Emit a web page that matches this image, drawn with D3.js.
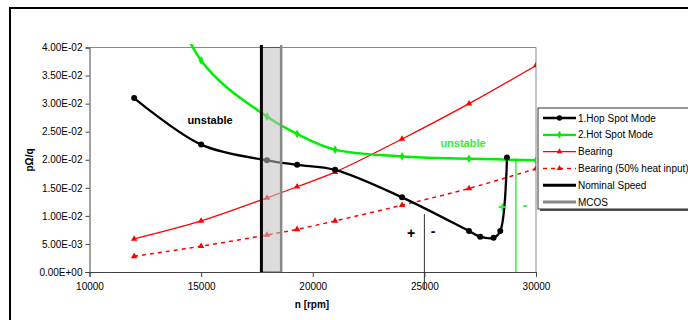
<!DOCTYPE html>
<html>
<head>
<meta charset="utf-8">
<script src="https://cdn.jsdelivr.net/npm/d3@7"></script>
<style>
  body { margin: 0; background: #fff; }
  svg { font-family: "Liberation Sans", Arial, sans-serif; }
</style>
</head>
<body>
<svg width="688" height="320"></svg>
<script>
// data
var hopN = [12000, 15000, 17950, 19300, 21000, 24000, 27000, 27500, 28100, 28400, 28700];
var hopVal = [0.031, 0.0227, 0.0199, 0.0191, 0.0182, 0.0133, 0.0073, 0.0063, 0.0061, 0.0073, 0.0204];

var hotN = [12000, 15000, 17950, 19300, 21000, 24000, 27000, 30000];
var hotVal = [0.066, 0.0377, 0.0277, 0.0246, 0.0218, 0.0206, 0.0202, 0.0199];

var bearN = [12000, 15000, 17950, 19300, 21000, 24000, 27000, 30000];
var bearVal = [0.0059, 0.0091, 0.0132, 0.0152, 0.0178, 0.0237, 0.030, 0.0368];
var bear50Val = [0.0028, 0.0046, 0.0066, 0.0076, 0.0091, 0.0119, 0.0149, 0.0184];

var nominalSpeed = 17700;
var mcos = 18585;
var stabilityLimit = 29100;   // green vertical line
var signLine = 25000;         // black +/- line

var xTicks = [10000, 15000, 20000, 25000, 30000];
var yTicks = [0, 0.005, 0.01, 0.015, 0.02, 0.025, 0.03, 0.035, 0.04];
var legendNames = ["1.Hop Spot Mode", "2.Hot Spot Mode", "Bearing", "Bearing (50% heat input)", "Nominal Speed", "MCOS"];

var svg = d3.select("svg");

// outer chart frame
svg.append("path")
  .attr("d", "M10,330 L10,8 L700,8")
  .attr("fill", "none")
  .attr("stroke", "#000")
  .attr("stroke-width", 2);

var x = d3.scaleLinear().domain([10000, 30000]).range([89.5, 536]);
var y = d3.scaleLinear().domain([0, 0.04]).range([272, 47.5]);

// plot area border (top and right)
svg.append("path")
  .attr("d", `M${x(10000)},${y(0.04)} L${x(30000)},${y(0.04)} L${x(30000)},${y(0)}`)
  .attr("fill", "none")
  .attr("stroke", "#888")
  .attr("stroke-width", 1);

function sci(v) {
  if (v === 0) return "0.00E+00";
  var s = v.toExponential(2).toUpperCase();   // e.g. 4.00E-2
  return s.replace(/E([+-])(\d)$/, "E$10$2");
}

var leftAxis = d3.axisLeft(y).tickValues(yTicks).tickFormat(sci).tickSize(4).tickPadding(3);
var bottomAxis = d3.axisBottom(x).tickValues(xTicks).tickFormat(d3.format("d")).tickSize(5).tickPadding(6);

var gy = svg.append("g").attr("transform", `translate(${x(10000)},0)`).call(leftAxis);
var gx = svg.append("g").attr("transform", `translate(0,${y(0)})`).call(bottomAxis);
[gx, gy].forEach(function(g) {
  g.selectAll("text").style("font-size", "10px").attr("fill", "#000");
  g.selectAll("line").attr("stroke", "#444");
  g.select(".domain").attr("stroke", "#444");
});

svg.append("text")
  .attr("transform", "translate(33,160) rotate(-90)")
  .attr("text-anchor", "middle")
  .style("font-size", "10px").style("font-weight", "bold")
  .text("pΩ/q");
svg.append("text")
  .attr("x", 312).attr("y", 308)
  .attr("text-anchor", "middle")
  .style("font-size", "10px").style("font-weight", "bold")
  .text("n [rpm]");

// clipping for curves
svg.append("clipPath").attr("id", "clip")
  .append("rect").attr("x", x(10000)).attr("y", 44)
  .attr("width", x(30000) - x(10000)).attr("height", y(0) - 44);

var plot = svg.append("g").attr("clip-path", "url(#clip)");

var line = d3.line().curve(d3.curveCatmullRom.alpha(0.5));

function series(ns, vals, color, width, dash, marker) {
  var pts = ns.map((n, i) => [x(n), y(vals[i])]);
  plot.append("path")
    .attr("d", line(pts))
    .attr("fill", "none")
    .attr("stroke", color)
    .attr("stroke-width", width)
    .attr("stroke-dasharray", dash);
  var sym = d3.symbol().type(marker.type).size(marker.size);
  plot.selectAll(null)
    .data(pts)
    .enter()
    .append("path")
    .attr("transform", d => `translate(${d[0]},${d[1]})`)
    .attr("d", sym)
    .attr("fill", color);
}

series(bearN, bear50Val, "#ff0000", 1.5, "4,4", {type: d3.symbolTriangle, size: 18});
series(bearN, bearVal, "#ff0000", 1.3, null, {type: d3.symbolTriangle, size: 18});
series(hotN, hotVal, "#00ee00", 2.5, null, {type: d3.symbolDiamond, size: 22});
series(hopN, hopVal, "#000000", 2.3, null, {type: d3.symbolCircle, size: 28});

// nominal speed / MCOS band
svg.append("rect")
  .attr("x", x(nominalSpeed)).attr("y", y(0.04))
  .attr("width", x(mcos) - x(nominalSpeed))
  .attr("height", y(0) - y(0.04))
  .attr("fill", "#c0c0c0").attr("fill-opacity", 0.55)
  .attr("stroke", "#555").attr("stroke-width", 1);
svg.append("line")
  .attr("x1", x(mcos)).attr("x2", x(mcos))
  .attr("y1", 45).attr("y2", y(0))
  .attr("stroke", "#888").attr("stroke-width", 2.5);
svg.append("line")
  .attr("x1", x(nominalSpeed)).attr("x2", x(nominalSpeed))
  .attr("y1", 45).attr("y2", y(0))
  .attr("stroke", "#000").attr("stroke-width", 3);

// stability markers
svg.append("line")
  .attr("x1", x(signLine)).attr("x2", x(signLine))
  .attr("y1", 214).attr("y2", 290)
  .attr("stroke", "#333").attr("stroke-width", 1);
svg.append("line")
  .attr("x1", x(stabilityLimit)).attr("x2", x(stabilityLimit))
  .attr("y1", y(0.0202)).attr("y2", y(0))
  .attr("stroke", "#00ee00").attr("stroke-width", 1.2);

function label(tx, ty, txt, color, size) {
  svg.append("text")
    .attr("x", tx).attr("y", ty)
    .attr("text-anchor", "middle")
    .attr("fill", color)
    .style("font-size", size + "px").style("font-weight", "bold")
    .text(txt);
}
label(210, 124, "unstable", "#000", 11);
label(463, 147, "unstable", "#33ee33", 11);
label(411, 238, "+", "#000", 14);
label(433, 236, "-", "#000", 14);
label(502, 212, "+", "#33ee33", 14);
label(525, 210, "-", "#33ee33", 14);

// legend
var legend = svg.append("g").attr("transform", "translate(538,108)");
legend.append("rect")
  .attr("x", 2).attr("y", 2).attr("width", 170).attr("height", 101)
  .attr("fill", "#555");
legend.append("rect")
  .attr("x", 0).attr("y", 0).attr("width", 170).attr("height", 101)
  .attr("fill", "#fff").attr("stroke", "#333").attr("stroke-width", 1);

var legendStyle = [
  {color: "#000", width: 2.3, dash: null, marker: d3.symbolCircle, msize: 22},
  {color: "#00ee00", width: 2.3, dash: null, marker: d3.symbolDiamond, msize: 18},
  {color: "#ff0000", width: 1.3, dash: null, marker: d3.symbolTriangle, msize: 14},
  {color: "#ff0000", width: 1.5, dash: "4,4", marker: d3.symbolTriangle, msize: 14},
  {color: "#000", width: 3, dash: null, marker: null},
  {color: "#888", width: 3, dash: null, marker: null}
];

legendNames.forEach(function(name, i) {
  var ly = 10 + i * 16.8;
  var st = legendStyle[i];
  legend.append("line")
    .attr("x1", 5).attr("x2", 38).attr("y1", ly).attr("y2", ly)
    .attr("stroke", st.color).attr("stroke-width", st.width)
    .attr("stroke-dasharray", st.dash);
  if (st.marker) {
    legend.append("path")
      .attr("transform", `translate(21.5,${ly})`)
      .attr("d", d3.symbol().type(st.marker).size(st.msize))
      .attr("fill", st.color);
  }
  legend.append("text")
    .attr("x", 40).attr("y", ly + 3.5)
    .style("font-size", "10px")
    .text(name);
});
</script>
</body>
</html>
